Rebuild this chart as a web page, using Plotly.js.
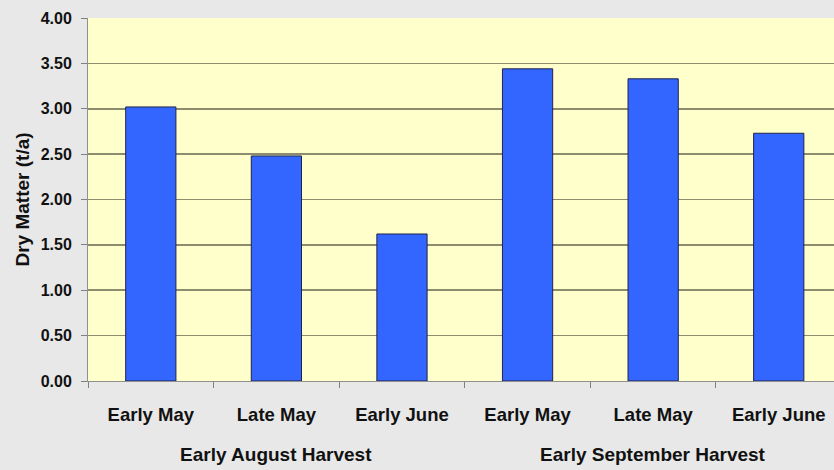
<!DOCTYPE html>
<html>
<head>
<meta charset="utf-8">
<script src="https://cdn.plot.ly/plotly-3.0.1.min.js"></script>
<style>html,body{margin:0;padding:0;background:#e8e8e8;}#chart{width:834px;height:470px;}</style>
</head>
<body>
<div id="chart"></div>
<script>
var harvests = ["Early August Harvest","Early August Harvest","Early August Harvest","Early September Harvest","Early September Harvest","Early September Harvest"];
var plantings = ["Early May","Late May","Early June","Early May","Late May","Early June"];
var dryMatter = [3.02, 2.48, 1.62, 3.44, 3.33, 2.73];
var yTicks = [0,0.5,1,1.5,2,2.5,3,3.5,4];

var idx = plantings.map(function(_, i){ return i; });

// group labels, centred on the mean index of their categories
var groups = [];
harvests.forEach(function(h, i){
  var g = groups.find(function(o){ return o.name === h; });
  if (!g) { g = {name: h, idx: []}; groups.push(g); }
  g.idx.push(i);
});
var annotations = groups.map(function(g){
  var m = g.idx.reduce(function(a,b){return a+b;},0) / g.idx.length;
  return {
    x: m, xref: "x", y: 0, yref: "paper",
    yanchor: "top", xanchor: "center", yshift: -61,
    showarrow: false, text: g.name,
    font: {size: 19, weight: "bold", color: "#111111"}
  };
});

var trace = {
  type: "bar",
  x: idx,
  y: dryMatter,
  marker: {color: "#3366ff", line: {color: "#22224a", width: 1}},
  width: 0.4,
  hoverinfo: "skip"
};

var layout = {
  width: 834, height: 470,
  paper_bgcolor: "#e8e8e8",
  plot_bgcolor: "#ffffcc",
  margin: {l: 88, r: 0, t: 18, b: 89},
  showlegend: false,
  font: {family: "Liberation Sans, Arial, sans-serif", color: "#111111"},
  annotations: annotations,
  xaxis: {
    range: [-0.5, 5.44],
    tickmode: "array",
    tickvals: idx,
    ticktext: plantings,
    ticks: "",
    ticklabelstandoff: 17,
    minor: {tick0: -0.5, dtick: 1, ticks: "outside", ticklen: 6, tickcolor: "#808080", showgrid: false},
    showline: true,
    linecolor: "#909090",
    linewidth: 1,
    tickfont: {size: 18.5, weight: "bold"},
    showgrid: false,
    zeroline: false
  },
  yaxis: {
    range: [0, 4],
    tickvals: yTicks,
    tickformat: ".2f",
    ticks: "outside",
    ticklen: 6,
    tickcolor: "#808080",
    ticklabelstandoff: 6,
    showline: true,
    linecolor: "#909090",
    linewidth: 1,
    gridcolor: "#8c8c6e",
    gridwidth: 1.6,
    zeroline: false,
    tickfont: {size: 16, weight: "bold"},
    title: {text: "Dry Matter (t/a)", font: {size: 19, weight: "bold"}, standoff: 6}
  }
};

Plotly.newPlot("chart", [trace], layout, {displayModeBar: false, staticPlot: true});
</script>
</body>
</html>
